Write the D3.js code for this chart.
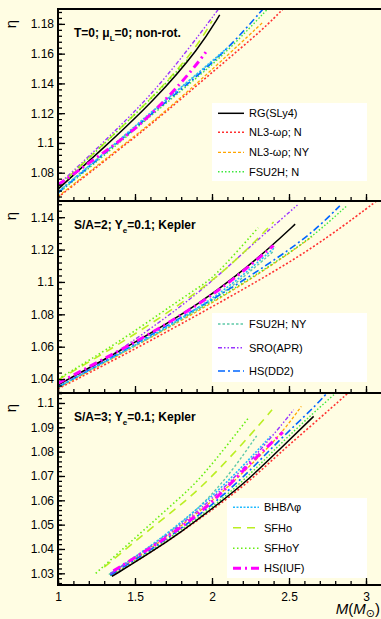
<!DOCTYPE html>
<html>
<head>
<meta charset="utf-8">
<script src="https://cdn.jsdelivr.net/npm/d3@7"></script>
<style>
body { margin: 0; background: #fffde3; }
text { font-family: "Liberation Sans", Arial, sans-serif; }
</style>
</head>
<body>
<svg id="chart" width="381" height="619"></svg>
<script>
// EOS names, in legend order
const eosNames = ["RG(SLy4)", "NL3-ωρ; N", "NL3-ωρ; NY", "FSU2H; N", "FSU2H; NY",
    "SRO(APR)", "HS(DD2)", "BHBΛφ", "SFHo", "SFHoY", "HS(IUF)"];

const panelTitles = [
    ["T=0; μ", "L", "=0; non-rot."],
    ["S/A=2; Y", "e", "=0.1; Kepler"],
    ["S/A=3; Y", "e", "=0.1; Kepler"]
];

// which EOS go into the legend of each panel
const legendGroups = [[0, 1, 2, 3], [4, 5, 6], [7, 8, 9, 10]];

const xTicks = [1, 1.5, 2, 2.5, 3];
const yTicks1 = [1.08, 1.1, 1.12, 1.14, 1.16, 1.18];
const yTicks2 = [1.04, 1.06, 1.08, 1.1, 1.12, 1.14];
const yTicks3 = [1.03, 1.04, 1.05, 1.06, 1.07, 1.08, 1.09, 1.1];

// [M, eta], same order as eosNames
const coldCurves = [
    [[1.0, 1.069], [1.3, 1.097], [1.63, 1.129], [1.92, 1.164], [2.05, 1.186]],
    [[1.0, 1.0635], [1.41, 1.0965], [1.68, 1.119], [2.03, 1.150], [2.34, 1.177], [2.47, 1.191]],
    [[1.0, 1.064], [1.41, 1.0975], [1.68, 1.1195], [2.03, 1.152], [2.33, 1.181]],
    [[1.0, 1.066], [1.3, 1.0915], [1.6, 1.118], [1.9, 1.1435], [2.12, 1.1635], [2.37, 1.191]],
    [[1.0, 1.0675], [1.3, 1.093], [1.6, 1.12], [1.9, 1.146], [2.05, 1.159]],
    [[1.0, 1.072], [1.12, 1.083], [1.41, 1.112], [1.6, 1.132], [1.81, 1.158], [2.05, 1.191]],
    [[1.0, 1.0665], [1.3, 1.0925], [1.6, 1.119], [1.9, 1.1445], [2.12, 1.165], [2.34, 1.191]],
    [[1.0, 1.067], [1.3, 1.093], [1.6, 1.1205], [1.9, 1.146], [2.1, 1.164]],
    [[1.0, 1.0705], [1.3, 1.0995], [1.63, 1.132], [1.9, 1.164], [2.0, 1.182]],
    [[1.0, 1.0705], [1.3, 1.0995], [1.63, 1.132], [1.85, 1.157]],
    [[1.0, 1.0718], [1.26, 1.0908], [1.5, 1.1088], [1.71, 1.130], [1.88, 1.150], [1.96, 1.161]]
];

const s2Curves = [
    [[1.0, 1.0365], [1.3, 1.052], [1.6, 1.068], [1.92, 1.0869], [2.14, 1.1023], [2.38, 1.1215], [2.54, 1.1357]],
    [[1.0, 1.034], [1.4, 1.0535], [1.79, 1.0735], [2.225, 1.0965], [2.66, 1.1209], [3.05, 1.1486], [3.11, 1.153]],
    [[1.0, 1.0345], [1.4, 1.055], [1.79, 1.0755], [2.117, 1.0935], [2.44, 1.1135], [2.65, 1.128]],
    [[1.0, 1.035], [1.4, 1.0555], [1.79, 1.0765], [2.117, 1.094], [2.44, 1.114], [2.66, 1.1285], [2.875, 1.147]],
    [[1.0, 1.035], [1.3, 1.0505], [1.6, 1.0655], [1.92, 1.0835], [2.14, 1.0975], [2.40, 1.119]],
    [[1.0, 1.0365], [1.27, 1.0495], [1.53, 1.0663], [1.91, 1.0925], [2.225, 1.12], [2.555, 1.1475]],
    [[1.0, 1.0351], [1.4, 1.056], [1.79, 1.0775], [2.117, 1.0955], [2.44, 1.1157], [2.66, 1.131], [2.83, 1.147]],
    [[1.0, 1.035], [1.3, 1.0505], [1.6, 1.066], [1.92, 1.0845], [2.14, 1.099], [2.41, 1.1215]],
    [[1.0, 1.0395], [1.41, 1.062], [1.92, 1.094], [2.2, 1.117], [2.40, 1.137]],
    [[1.0, 1.040], [1.41, 1.0635], [1.92, 1.0976], [2.0, 1.1013], [2.30, 1.1335]],
    [[1.0, 1.0375], [1.3, 1.0525], [1.6, 1.068], [1.92, 1.0865], [2.14, 1.1015], [2.40, 1.1225]]
];

const s3Curves = [
    [[1.35, 1.0287], [1.6, 1.0385], [1.8, 1.047], [2.0, 1.0565], [2.23, 1.068], [2.44, 1.081], [2.66, 1.0945]],
    [[1.35, 1.029], [1.6, 1.0385], [1.8, 1.047], [2.0, 1.056], [2.23, 1.067], [2.44, 1.0795], [2.66, 1.0915], [2.9, 1.105]],
    [[1.34, 1.0295], [1.6, 1.040], [1.8, 1.0495], [2.0, 1.0595], [2.23, 1.073], [2.44, 1.0865], [2.58, 1.0986]],
    [[1.34, 1.029], [1.6, 1.039], [1.8, 1.048], [2.0, 1.057], [2.23, 1.0695], [2.44, 1.083], [2.66, 1.096], [2.82, 1.105]],
    [[1.33, 1.0295], [1.6, 1.041], [1.8, 1.0505], [1.97, 1.0602], [2.13, 1.072], [2.29, 1.0865]],
    [[1.34, 1.0298], [1.6, 1.0405], [1.8, 1.050], [2.0, 1.0605], [2.23, 1.0745], [2.44, 1.090], [2.53, 1.0972]],
    [[1.34, 1.0292], [1.6, 1.0395], [1.8, 1.0485], [2.0, 1.058], [2.23, 1.071], [2.44, 1.085], [2.66, 1.098], [2.76, 1.105]],
    [[1.34, 1.030], [1.6, 1.041], [1.8, 1.051], [2.0, 1.0615], [2.2, 1.074], [2.38, 1.0863]],
    [[1.30, 1.0325], [1.64, 1.0505], [1.91, 1.0635], [2.225, 1.085], [2.39, 1.0972]],
    [[1.245, 1.030], [1.53, 1.0462], [1.79, 1.061], [1.93, 1.069], [2.236, 1.0938]],
    [[1.36, 1.031], [1.63, 1.0415], [1.85, 1.051], [2.05, 1.062], [2.25, 1.0755], [2.46, 1.088]]
];

// line styles, same order as eosNames
const styles = [
    { color: "#000000", dash: null, width: 1.5 },
    { color: "#ff3030", dash: "2,2", width: 1.6 },
    { color: "#ffa500", dash: "3,2", width: 1.3 },
    { color: "#3ee83e", dash: "1.5,2", width: 1.4 },
    { color: "#5fc9a8", dash: "2.5,2", width: 1.4 },
    { color: "#9933ff", dash: "4,2,1.5,2,1.5,2", width: 1.4 },
    { color: "#0066ff", dash: "7,3,2,3", width: 1.6 },
    { color: "#22bbff", dash: "2,1.5", width: 1.6 },
    { color: "#bbee22", dash: "8,6", width: 1.6 },
    { color: "#66ee11", dash: "1.5,2.5", width: 1.6 },
    { color: "#ff00ff", dash: "8,4,2,4", width: 3 }
];

const panels = [
    { top: 9, domain: [1.061, 1.19], ticks: yTicks1, minor: 0.004, curves: coldCurves,
      legend: { x: 212, y: 103, w: 155, h: 78, rows: [113.3, 132.3, 152.3, 171.7], lx: 218 } },
    { top: 201, domain: [1.0314, 1.150], ticks: yTicks2, minor: 0.004, curves: s2Curves,
      legend: { x: 212, y: 313, w: 155, h: 69, rows: [324, 347.7, 371], lx: 218 } },
    { top: 393, domain: [1.0252, 1.1041], ticks: yTicks3, minor: 0.002, curves: s3Curves,
      legend: { x: 227, y: 498, w: 140, h: 80, rows: [507.3, 527.7, 548.3, 568.3], lx: 233 } }
];

const left = 58, right = 383, panelH = 192;
const svg = d3.select("#chart");

const x = d3.scaleLinear().domain([1, 1 + (right - left) / 154]).range([left, right]);
const xMinor = d3.range(1, 3.11, 0.1).map(v => +v.toFixed(1));
const fmt = d => String(+d.toFixed(2));

panels.forEach((p, i) => {
    const bottom = p.top + panelH;
    const y = d3.scaleLinear().domain(p.domain).range([bottom, p.top]);
    const g = svg.append("g");

    g.append("clipPath").attr("id", `clip${i}`)
        .append("rect")
        .attr("x", left).attr("y", p.top)
        .attr("width", right - left).attr("height", panelH);

    // curves (basis spline smooths out reading noise)
    const line = d3.line()
        .x(d => x(d[0]))
        .y(d => y(d[1]))
        .curve(d3.curveBasis);

    const order = [1, 2, 3, 4, 6, 7, 5, 8, 9, 0, 10];
    g.append("g").attr("clip-path", `url(#clip${i})`)
        .selectAll("path")
        .data(order)
        .join("path")
        .attr("d", k => line(p.curves[k]))
        .attr("fill", "none")
        .attr("stroke", k => styles[k].color)
        .attr("stroke-width", k => styles[k].width)
        .attr("stroke-dasharray", k => styles[k].dash);

    // y axis major + minor ticks
    const lo = Math.ceil(p.domain[0] / p.minor) * p.minor;
    const yMinor = d3.range(lo, p.domain[1], p.minor).map(v => +v.toFixed(4));
    g.append("g")
        .attr("transform", `translate(${left},0)`)
        .call(d3.axisLeft(y).tickValues(yMinor).tickSize(-4).tickFormat(""))
        .call(a => a.select(".domain").remove());
    g.append("g")
        .attr("transform", `translate(${left},0)`)
        .call(d3.axisLeft(y).tickValues(p.ticks).tickSize(-7).tickPadding(4).tickFormat(fmt))
        .call(a => a.select(".domain").remove())
        .call(a => a.selectAll("text").attr("font-size", 12).attr("fill", "#000")
            .attr("font-family", "Liberation Sans, Arial, sans-serif"));

    // x axis ticks
    g.append("g")
        .attr("transform", `translate(0,${bottom})`)
        .call(d3.axisBottom(x).tickValues(xMinor).tickSize(-4).tickFormat(""))
        .call(a => a.select(".domain").remove());
    g.append("g")
        .attr("transform", `translate(0,${bottom})`)
        .call(d3.axisBottom(x).tickValues(xTicks).tickSize(-7).tickPadding(7)
            .tickFormat(i === 2 ? d3.format("") : ""))
        .call(a => a.select(".domain").remove())
        .call(a => a.selectAll("text").attr("font-size", 12).attr("fill", "#000")
            .attr("font-family", "Liberation Sans, Arial, sans-serif"));

    g.selectAll(".tick line").attr("stroke", "#000").attr("stroke-width", 1.3);

    // frame
    g.append("rect")
        .attr("x", left).attr("y", p.top)
        .attr("width", right - left).attr("height", panelH)
        .attr("fill", "none").attr("stroke", "#000").attr("stroke-width", 2);

    // eta label
    g.append("text")
        .attr("transform", `translate(16,${p.top + 15}) rotate(-90)`)
        .attr("text-anchor", "middle")
        .attr("font-size", 15)
        .attr("font-family", "DejaVu Sans, sans-serif")
        .text("η");

    // panel title with subscript
    const t = g.append("text")
        .attr("x", 74).attr("y", p.top + 28)
        .attr("font-size", 12).attr("font-weight", "bold");
    t.append("tspan").text(panelTitles[i][0]);
    t.append("tspan").attr("font-size", 8).attr("dy", 4).text(panelTitles[i][1]);
    t.append("tspan").attr("dy", -4).text(panelTitles[i][2]);

    // legend
    const L = p.legend;
    g.append("rect")
        .attr("x", L.x).attr("y", L.y).attr("width", L.w).attr("height", L.h)
        .attr("fill", "#fff");
    const rows = g.selectAll(".leg")
        .data(legendGroups[i])
        .join("g")
        .attr("class", "leg")
        .attr("transform", (k, j) => `translate(0,${L.rows[j]})`);
    rows.append("line")
        .attr("x1", L.lx).attr("x2", L.lx + 26)
        .attr("stroke", k => styles[k].color)
        .attr("stroke-width", k => styles[k].width)
        .attr("stroke-dasharray", k => styles[k].dash);
    rows.append("text")
        .attr("x", L.lx + 31).attr("dy", "0.36em")
        .attr("font-size", 11)
        .text(k => eosNames[k]);
});

// x axis title
const xt = svg.append("text")
    .attr("x", 380).attr("y", 614)
    .attr("text-anchor", "end")
    .attr("font-size", 15);
xt.append("tspan").attr("font-style", "italic").text("M");
xt.append("tspan").text("(");
xt.append("tspan").attr("font-style", "italic").text("M");
xt.append("tspan").attr("font-size", 11).attr("dy", 3)
    .attr("font-family", "DejaVu Sans, sans-serif").text("⊙");
xt.append("tspan").attr("dy", -3).text(")");
</script>
</body>
</html>
